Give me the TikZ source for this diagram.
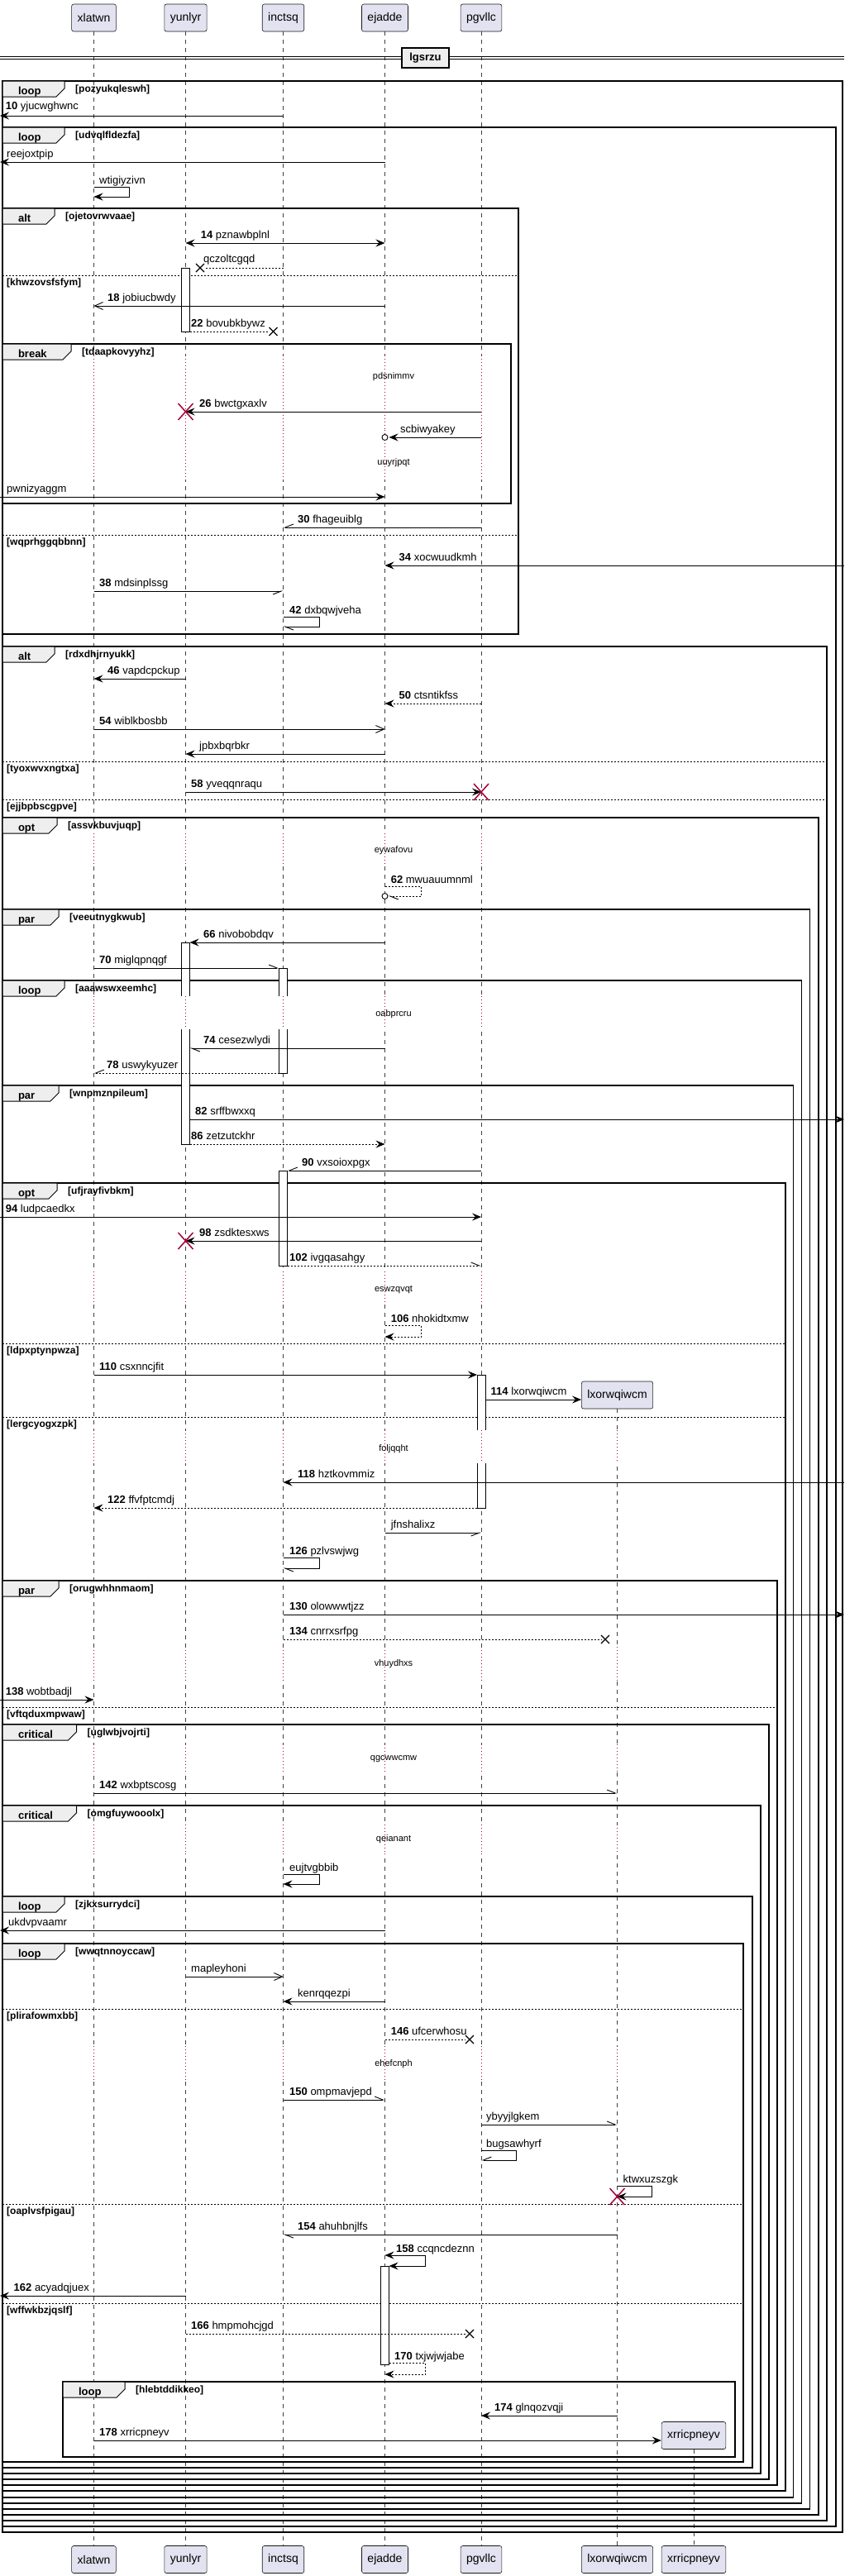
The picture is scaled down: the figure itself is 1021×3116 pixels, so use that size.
\documentclass[tikz,border=0pt]{standalone}
\usepackage{fontspec}
\setmainfont{Liberation Sans}
\usetikzlibrary{calc,arrows.meta}
\definecolor{partfill}{HTML}{E2E2F0}
\definecolor{tabfill}{HTML}{EEEEEE}
\definecolor{crim}{HTML}{A80036}
\def\grpbox[#1](#2,#3)(#4,#5)#6#7{%
  \draw[frame] (#2,#3) rectangle (#4,#5);
  \filldraw[tab] (#2,#3) -- (#1,#3) -- (#1,#3+9) -- (#1-10,#3+19) -- (#2,#3+19) -- cycle;
  \node[tablbl] (g#7) at (#2+15.5,#3+16) {#6};
  \node[cond] (c#7) at (#1+13,#3+13) {[#7]};}
\def\elsesep(#1,#2,#3)#4{%
  \draw[sep] (#1,#3) -- (#2,#3);
  \node[cond] (e#4) at (#1+5,#3+12) {[#4]};}
\def\delaygap(#1,#2,#3)#4#5{%
  \foreach \p in #4 {\draw[gap] (\p |- 0,#1) -- (\p |- 0,#2); \draw[delayline] (\p |- 0,#1) -- (\p |- 0,#2);}
  \node[delaytxt] (d#5) at (476,#3) {#5};}
\def\lostx(#1,#2){\draw[lost] (#1-5,#2-5) -- (#1+5,#2+5) (#1-5,#2+5) -- (#1+5,#2-5);}
\def\killx(#1){\draw[kill] ($(#1)+(-9,-10)$) -- ($(#1)+(9,10)$) ($(#1)+(-9,10)$) -- ($(#1)+(9,-10)$);}
\def\endcirc(#1){\draw[line width=0.9pt,fill=white] (#1) circle (3.5pt);}
\def\five{xlatwn,yunlyr,inctsq,ejadde,pgvllc}
\def\six{xlatwn,yunlyr,inctsq,ejadde,pgvllc,lxorwqiwcm}
\tikzset{
  part/.style={draw=black!90, fill=partfill, rounded corners=2.5pt, minimum height=33pt, inner xsep=7pt, line width=0.6pt, font=\fontsize{14}{16}\selectfont},
  lifeline/.style={black!75, line width=0.6pt, dash pattern=on 5pt off 5pt},
  gap/.style={white, line width=2.5pt},
  delayline/.style={crim, line width=0.8pt, dash pattern=on 1pt off 3pt},
  delaytxt/.style={font=\fontsize{11}{13}\selectfont},
  frame/.style={line width=1.4pt},
  tab/.style={fill=tabfill, line width=1pt},
  tablbl/.style={anchor=base west, font=\bfseries\fontsize{13}{15}\selectfont},
  cond/.style={anchor=base west, inner sep=0pt, font=\bfseries\fontsize{12}{14}\selectfont},
  sep/.style={line width=0.8pt, dash pattern=on 2pt off 2pt},
  lbl/.style={anchor=base west, inner sep=0pt, font=\fontsize{13}{15}\selectfont},
  act/.style={fill=white, line width=0.8pt},
  line/.style={line width=0.9pt},
  msg/.style={line, -{Stealth[length=11pt,width=9pt,inset=4pt]}},
  both/.style={line, {Stealth[length=11pt,width=9pt,inset=4pt]}-{Stealth[length=11pt,width=9pt,inset=4pt]}},
  open/.style={line, -{Straight Barb[length=10pt,width=9pt]}},
  half/.style={line, -{Straight Barb[harpoon,length=10pt,width=8pt]}},
  halfs/.style={line, -{Straight Barb[harpoon,swap,length=10pt,width=8pt]}},
  dots/.style={dash pattern=on 2pt off 2pt},
  ret/.style={msg, dots},
  lost/.style={line width=1.3pt},
  kill/.style={crim, line width=1.5pt},
  divider/.style={draw, fill=tabfill, line width=1.6pt, minimum width=57pt, minimum height=24pt, font=\bfseries\fontsize{13}{15}\selectfont}
}
\begin{document}
\begin{tikzpicture}[x=1pt,y=-1pt]
  %%%%% START %%%%%
  \useasboundingbox (0,0) rectangle (1021,3116);
  \node[part] (xlatwn) at (113.5,21.5) {xlatwn};
  \node[part] (yunlyr) at (224.5,21.5) {yunlyr};
  \node[part] (inctsq) at (342.5,21.5) {inctsq};
  \node[part] (ejadde) at (465.5,21.5) {ejadde};
  \node[part] (pgvllc) at (582,21.5) {pgvllc};
  \node[part] (lxorwqiwcm) at (746.5,1687.5) {lxorwqiwcm};
  \node[part] (xrricpneyv) at (839,2946) {xrricpneyv};
  \foreach \p/\x in {xlatwn/113.5,yunlyr/224.5,inctsq/342.5,ejadde/465.5,pgvllc/582,lxorwqiwcm/746.5,xrricpneyv/839}
    \node[part] (\p-ft) at (\x,3096) {\p};
  \foreach \p in {xlatwn,yunlyr,inctsq,ejadde,pgvllc,lxorwqiwcm,xrricpneyv}
    \draw[lifeline] (\p.south) -- (\p-ft.north);
  \coordinate (lft) at (0,0);
  \coordinate (rgt) at (1021,0);
  \foreach \p in {yunlyr,inctsq,ejadde,pgvllc} {
    \coordinate (\p-l) at ($(\p)+(-5,0)$);
    \coordinate (\p-r) at ($(\p)+(5,0)$);
  }

  % delays
  \delaygap(430,520,456)\five{pdsnimmv}
  \delaygap(520,580,560)\five{uuyrjpqt}
  \delaygap(1008,1048,1029)\five{eywafovu}
  \delaygap(1205,1245,1227)\five{oabprcru}
  \delaygap(1538,1577,1560)\five{eswzqvqt}
  \delaygap(1730,1770,1753)\six{foljqqht}
  \delaygap(1992,2033,2013)\six{vhuydhxs}
  \delaygap(2110,2143,2128)\six{qgcwwcmw}
  \delaygap(2207,2242,2225)\six{qeianant}
  \delaygap(2475,2517,2497)\six{ehefcnph}

  % divider
  \draw[line width=0.8pt] (lft |- 0,68.3) -- (rgt |- 0,68.3) (lft |- 0,71.7) -- (rgt |- 0,71.7);
  \node[divider] (lgsrzu) at (514.5,70) {lgsrzu};

  % groups
  \grpbox[78](3,98)(1019,3063){loop}{pozyukqleswh}
  \grpbox[78](3,154)(1011,3056){loop}{udvqlfldezfa}
  \grpbox[66](3,252)(627,767){alt}{ojetovrwvaae}
  \elsesep(3,627,333){khwzovsfsfym}
  \elsesep(3,627,647){wqprhggqbbnn}
  \grpbox[86](3,416)(618,609){break}{tdaapkovyyhz}
  \grpbox[66](3,782)(1000,3049){alt}{rdxdhjrnyukk}
  \elsesep(3,1000,921){tyoxwvxngtxa}
  \elsesep(3,1000,967){ejjbpbscgpve}
  \grpbox[69](3,989)(990,3042){opt}{assvkbuvjuqp}
  \grpbox[71](3,1100)(979.5,3035){par}{veeutnygkwub}
  \grpbox[78](3,1186)(969.5,3028){loop}{aaawswxeemhc}
  \grpbox[71](3,1313)(959.5,3021){par}{wnpmznpileum}
  \grpbox[69](3,1431)(950,3013){opt}{ufjrayfivbkm}
  \elsesep(3,950,1625){ldpxptynpwza}
  \elsesep(3,950,1714){lergcyogxzpk}
  \grpbox[71](3,1912)(940,3006){par}{orugwhhnmaom}
  \elsesep(3,940,2065){vftqduxmpwaw}
  \grpbox[92.5](3,2086)(930,2999){critical}{uglwbjvojrti}
  \grpbox[92.5](3,2184)(920,2992){critical}{omgfuywooolx}
  \grpbox[78](3,2294)(910,2985){loop}{zjkxsurrydci}
  \grpbox[78](3,2351)(899,2978){loop}{wwqtnnoyccaw}
  \elsesep(3,899,2430){plirafowmxbb}
  \elsesep(3,899,2666){oaplvsfpigau}
  \elsesep(3,899,2786){wffwkbzjqslf}
  \grpbox[151](76,2881)(889,2972){loop}{hlebtddikkeo}

  % activations
  \filldraw[act] (yunlyr-l |- 0,324) rectangle (yunlyr-r |- 0,401);
  \filldraw[act] (yunlyr-l |- 0,1205) -- (yunlyr-l |- 0,1140) -- (yunlyr-r |- 0,1140) -- (yunlyr-r |- 0,1205);
  \filldraw[act] (yunlyr-l |- 0,1245) -- (yunlyr-l |- 0,1384) -- (yunlyr-r |- 0,1384) -- (yunlyr-r |- 0,1245);
  \filldraw[act] (inctsq-l |- 0,1205) -- (inctsq-l |- 0,1171) -- (inctsq-r |- 0,1171) -- (inctsq-r |- 0,1205);
  \filldraw[act] (inctsq-l |- 0,1245) -- (inctsq-l |- 0,1298) -- (inctsq-r |- 0,1298) -- (inctsq-r |- 0,1245);
  \filldraw[act] (inctsq-l |- 0,1416) rectangle (inctsq-r |- 0,1531);
  \filldraw[act] (pgvllc-l |- 0,1730) -- (pgvllc-l |- 0,1663) -- (pgvllc-r |- 0,1663) -- (pgvllc-r |- 0,1730);
  \filldraw[act] (pgvllc-l |- 0,1770) -- (pgvllc-l |- 0,1824) -- (pgvllc-r |- 0,1824) -- (pgvllc-r |- 0,1770);
  \filldraw[act] (ejadde-l |- 0,2741) rectangle (ejadde-r |- 0,2860);

  % messages
  \draw[msg] (inctsq |- 0,140) -- (lft |- 0,140);
  \node[lbl] (m10) at (6.6,132) {\textbf{10} yjucwghwnc};
  \draw[msg] (ejadde |- 0,196) -- (lft |- 0,196);
  \node[lbl] (m11) at (8,190.5) {reejoxtpip};
  \draw[msg] (xlatwn |- 0,226) -- ++(42.5,0) -- ++(0,12) -- (xlatwn |- 0,238);
  \node[lbl] (m12) at (120,222) {wtigiyzivn};
  \draw[both] (yunlyr |- 0,294) -- (ejadde |- 0,294);
  \node[lbl] (m14) at (242.6,288.5) {\textbf{14} pznawbplnl};
  \draw[line,dots] (inctsq |- 0,324) -- (248,324);
  \lostx(242,324)
  \node[lbl] (m16) at (246,317.5) {qczoltcgqd};
  \draw[open] (ejadde |- 0,370) -- (xlatwn |- 0,370);
  \node[lbl] (m18) at (130,364.5) {\textbf{18} jobiucbwdy};
  \draw[line,dots] (yunlyr-r |- 0,401) -- (325,401);
  \lostx(330.5,401)
  \node[lbl] (m22) at (231,395.5) {\textbf{22} bovubkbywz};
  \draw[msg] (pgvllc |- 0,498) -- (yunlyr |- 0,498);
  \killx(yunlyr |- 0,498)
  \node[lbl] (m26) at (241,492.5) {\textbf{26} bwctgxaxlv};
  \draw[msg] (pgvllc |- 0,529) -- ($(ejadde |- 0,529)+(5,0)$);
  \endcirc(ejadde |- 0,529)
  \node[lbl] (m28) at (484,523.5) {scbiwyakey};
  \draw[msg] (lft |- 0,601) -- (ejadde |- 0,601);
  \node[lbl] (m29) at (8,595.5) {pwnizyaggm};
  \draw[halfs] (pgvllc |- 0,638) -- (inctsq |- 0,638);
  \node[lbl] (m30) at (360,632.5) {\textbf{30} fhageuiblg};
  \draw[msg] (rgt |- 0,684) -- (ejadde |- 0,684);
  \node[lbl] (m34) at (482.5,678.5) {\textbf{34} xocwuudkmh};
  \draw[halfs] (xlatwn |- 0,715) -- (inctsq |- 0,715);
  \node[lbl] (m38) at (120,709.5) {\textbf{38} mdsinplssg};
  \draw[half] (inctsq |- 0,746) -- ++(43.5,0) -- ++(0,12) -- (inctsq |- 0,758);
  \node[lbl] (m42) at (350,742) {\textbf{42} dxbqwjveha};
  \draw[msg] (yunlyr |- 0,821) -- (xlatwn |- 0,821);
  \node[lbl] (m46) at (130,815.5) {\textbf{46} vapdcpckup};
  \draw[ret] (pgvllc |- 0,851) -- (ejadde |- 0,851);
  \node[lbl] (m50) at (482.5,845.5) {\textbf{50} ctsntikfss};
  \draw[open] (xlatwn |- 0,882) -- (ejadde |- 0,882);
  \node[lbl] (m54) at (120,876.5) {\textbf{54} wiblkbosbb};
  \draw[msg] (ejadde |- 0,912) -- (yunlyr |- 0,912);
  \node[lbl] (m56) at (241,906.5) {jpbxbqrbkr};
  \draw[msg] (yunlyr |- 0,958) -- (pgvllc |- 0,958);
  \killx(pgvllc |- 0,958)
  \node[lbl] (m58) at (231,952.5) {\textbf{58} yveqqnraqu};
  \draw[half,dots] (ejadde |- 0,1072) -- ++(43.5,0) -- ++(0,12) -- ($(ejadde |- 0,1084)+(4,0)$);
  \endcirc(ejadde |- 0,1084)
  \node[lbl] (m62) at (472.6,1068) {\textbf{62} mwuauumnml};
  \draw[msg] (ejadde |- 0,1140) -- (yunlyr-r |- 0,1140);
  \node[lbl] (m66) at (246,1134.5) {\textbf{66} nivobobdqv};
  \draw[half] (xlatwn |- 0,1171) -- (inctsq-l |- 0,1171);
  \node[lbl] (m70) at (120,1165.5) {\textbf{70} miglqpnqgf};
  \draw[half] (ejadde |- 0,1268) -- (yunlyr-r |- 0,1268);
  \node[lbl] (m74) at (246,1262.5) {\textbf{74} cesezwlydi};
  \draw[halfs,dots] (inctsq-l |- 0,1298) -- (xlatwn |- 0,1298);
  \node[lbl] (m78) at (129,1292.5) {\textbf{78} uswykyuzer};
  \draw[msg] (yunlyr-r |- 0,1354) -- (rgt |- 0,1354);
  \node[lbl] (m82) at (236,1348.5) {\textbf{82} srffbwxxq};
  \draw[ret] (yunlyr-r |- 0,1384) -- (ejadde |- 0,1384);
  \node[lbl] (m86) at (231,1378.5) {\textbf{86} zetzutckhr};
  \draw[halfs] (pgvllc |- 0,1416) -- (inctsq-r |- 0,1416);
  \node[lbl] (m90) at (365,1410.5) {\textbf{90} vxsoioxpgx};
  \draw[msg] (lft |- 0,1472) -- (pgvllc |- 0,1472);
  \node[lbl] (m94) at (6.6,1466.5) {\textbf{94} ludpcaedkx};
  \draw[msg] (pgvllc |- 0,1501) -- (yunlyr |- 0,1501);
  \killx(yunlyr |- 0,1501)
  \node[lbl] (m98) at (241,1495.5) {\textbf{98} zsdktesxws};
  \draw[half,dots] (inctsq-r |- 0,1531) -- (pgvllc |- 0,1531);
  \node[lbl] (m102) at (350,1525.5) {\textbf{102} ivgqasahgy};
  \draw[ret] (ejadde |- 0,1603) -- ++(43.5,0) -- ++(0,14) -- (ejadde |- 0,1617);
  \node[lbl] (m106) at (472.6,1599) {\textbf{106} nhokidtxmw};
  \draw[msg] (xlatwn |- 0,1663) -- (pgvllc-l |- 0,1663);
  \node[lbl] (m110) at (120,1657.5) {\textbf{110} csxnncjfit};
  \draw[msg] (pgvllc-r |- 0,1693) -- (lxorwqiwcm.west |- 0,1693);
  \node[lbl] (m114) at (593.5,1687.5) {\textbf{114} lxorwqiwcm};
  \draw[msg] (rgt |- 0,1793) -- (inctsq |- 0,1793);
  \node[lbl] (m118) at (360,1787.5) {\textbf{118} hztkovmmiz};
  \draw[ret] (pgvllc-l |- 0,1824) -- (xlatwn |- 0,1824);
  \node[lbl] (m122) at (130,1818.5) {\textbf{122} ffvfptcmdj};
  \draw[halfs] (ejadde |- 0,1854) -- (pgvllc |- 0,1854);
  \node[lbl] (m124) at (472.6,1848.5) {jfnshalixz};
  \draw[half] (inctsq |- 0,1884) -- ++(43.5,0) -- ++(0,13) -- (inctsq |- 0,1897);
  \node[lbl] (m126) at (350,1880) {\textbf{126} pzlvswjwg};
  \draw[msg] (inctsq |- 0,1953) -- (rgt |- 0,1953);
  \node[lbl] (m130) at (350,1947.5) {\textbf{130} olowwwtjzz};
  \draw[line,dots] (inctsq |- 0,1983) -- (727,1983);
  \lostx(732,1983)
  \node[lbl] (m134) at (350,1977.5) {\textbf{134} cnrrxsrfpg};
  \draw[msg] (lft |- 0,2056) -- (xlatwn |- 0,2056);
  \node[lbl] (m138) at (6.6,2050.5) {\textbf{138} wobtbadjl};
  \draw[half] (xlatwn |- 0,2169) -- (lxorwqiwcm |- 0,2169);
  \node[lbl] (m142) at (120,2163.5) {\textbf{142} wxbptscosg};
  \draw[msg] (inctsq |- 0,2267) -- ++(43.5,0) -- ++(0,12) -- (inctsq |- 0,2279);
  \node[lbl] (m144) at (350,2263) {eujtvgbbib};
  \draw[msg] (ejadde |- 0,2335) -- (lft |- 0,2335);
  \node[lbl] (m145) at (10,2329.5) {ukdvpvaamr};
  \draw[open] (yunlyr |- 0,2391) -- (inctsq |- 0,2391);
  \node[lbl] (m145a) at (231,2385.5) {mapleyhoni};
  \draw[msg] (ejadde |- 0,2421) -- (inctsq |- 0,2421);
  \node[lbl] (m145b) at (360,2415.5) {kenrqqezpi};
  \draw[line,dots] (ejadde |- 0,2467) -- (563,2467);
  \lostx(568,2467)
  \node[lbl] (m146) at (472.6,2461.5) {\textbf{146} ufcerwhosu};
  \draw[half] (inctsq |- 0,2540) -- (ejadde |- 0,2540);
  \node[lbl] (m150) at (350,2534.5) {\textbf{150} ompmavjepd};
  \draw[half] (pgvllc |- 0,2570) -- (lxorwqiwcm |- 0,2570);
  \node[lbl] (m151) at (588,2564.5) {ybyyjlgkem};
  \draw[halfs] (pgvllc |- 0,2601) -- ++(42.6,0) -- ++(0,12) -- (pgvllc |- 0,2613);
  \node[lbl] (m152) at (588,2597) {bugsawhyrf};
  \draw[msg] (lxorwqiwcm |- 0,2644) -- ++(41.5,0) -- ++(0,13) -- (lxorwqiwcm |- 0,2657);
  \killx(lxorwqiwcm |- 0,2657)
  \node[lbl] (m153) at (753.5,2640) {ktwxuzszgk};
  \draw[half] (lxorwqiwcm |- 0,2703) -- (inctsq |- 0,2703);
  \node[lbl] (m154) at (360,2697.5) {\textbf{154} ahuhbnjlfs};
  \draw[both] (ejadde |- 0,2728) -- ++(48.5,0) -- ++(0,13) -- (ejadde-r |- 0,2741);
  \node[lbl] (m158) at (479,2724) {\textbf{158} ccqncdeznn};
  \draw[msg] (yunlyr |- 0,2777) -- (lft |- 0,2777);
  \node[lbl] (m162) at (16.5,2771.5) {\textbf{162} acyadqjuex};
  \draw[line,dots] (yunlyr |- 0,2823) -- (563,2823);
  \lostx(568,2823)
  \node[lbl] (m166) at (231,2817.5) {\textbf{166} hmpmohcjgd};
  \draw[ret] (ejadde-r |- 0,2858) -- ($(ejadde |- 0,2858)+(48.5,0)$) -- ++(0,14) -- (ejadde |- 0,2872);
  \node[lbl] (m170) at (477,2854) {\textbf{170} txjwjwjabe};
  \draw[msg] (lxorwqiwcm |- 0,2922) -- (pgvllc |- 0,2922);
  \node[lbl] (m174) at (598,2916.5) {\textbf{174} glnqozvqji};
  \draw[msg] (xlatwn |- 0,2952) -- (xrricpneyv.west |- 0,2952);
  \node[lbl] (m178) at (120,2946.5) {\textbf{178} xrricpneyv};
  %%%%% END %%%%%
\end{tikzpicture}
\end{document}
